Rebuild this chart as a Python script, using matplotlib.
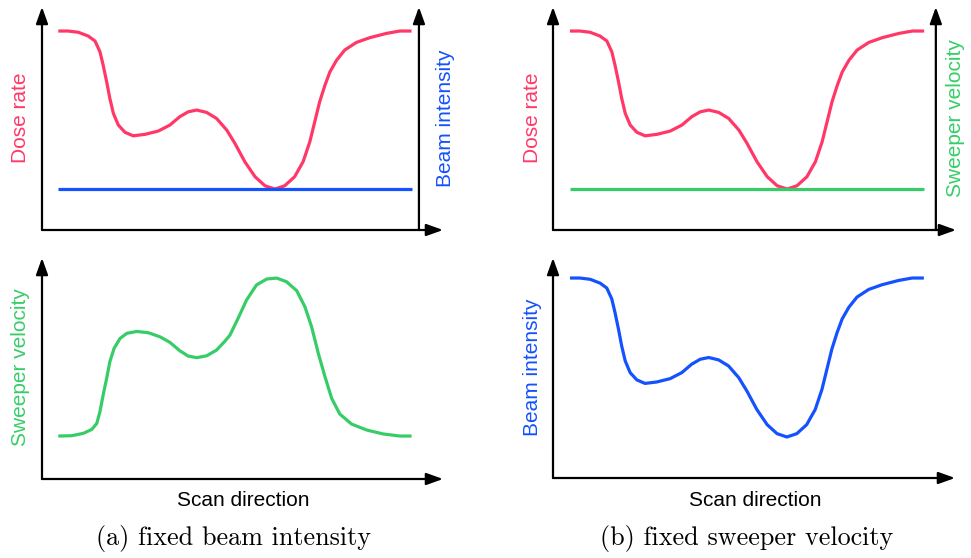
import numpy as np
import matplotlib.pyplot as plt

# values (scan position 0-100, level 0-100)
scan_pos = [0, 2.8, 5.7, 8.5, 10.4, 11.8, 12.7, 13.7, 14.6, 15.6, 17.0, 18.9, 21.2,
            24.5, 28.3, 31.6, 34.4, 36.8, 39.2, 42.0, 44.8, 47.7, 50.0, 52.8, 55.7,
            58.5, 61.3, 64.1, 66.9, 69.3, 71.2, 72.6, 74.0, 75.5, 76.9, 78.8, 81.1,
            84.4, 88.2, 92.9, 96.7, 100]
dose_rate = [100, 100, 99.2, 96.8, 93.7, 86.9, 78.5, 67.9, 57.4, 47.9, 40.5, 35.9, 33.7,
             34.6, 36.7, 40.5, 45.8, 48.9, 50.0, 48.5, 44.7, 37.3, 28.9, 17.3, 7.8,
             2.1, 0, 2.1, 7.8, 17.3, 29.9, 42.6, 55.3, 65.8, 74.2, 81.6, 88.0,
             92.8, 95.8, 98.5, 100, 100]

sweep_pos = [0, 3.8, 7.1, 9.5, 10.9, 11.8, 12.7, 13.7, 14.6, 15.8, 17.5, 19.4, 22.2,
             25.5, 28.8, 31.6, 34.4, 36.8, 39.2, 42.0, 44.8, 47.2, 48.6, 50.9, 53.3,
             56.1, 59.0, 61.8, 64.6, 67.5, 69.8, 71.7, 73.6, 75.5, 77.4, 79.7, 83.0,
             87.3, 92.0, 96.7, 100]
sweeper_velocity = [0, 0.2, 1.7, 4.2, 8.0, 15.4, 25.9, 36.5, 47.0, 55.5, 61.8, 65.0, 66.2,
                    65.4, 62.8, 59.3, 54.0, 50.6, 49.6, 50.8, 54.4, 60.1, 63.9, 74.5, 86.1,
                    95.6, 99.4, 100, 97.7, 92.0, 81.9, 69.2, 52.4, 37.5, 23.8, 13.9, 7.6,
                    3.8, 1.3, 0, 0]

fixed_pos = [0, 100]
fixed_level = [0, 0]

beam_b = dose_rate  # (b): beam intensity follows the dose-rate profile

RED = '#ff3868'
BLUE = '#1451ff'
GREEN = '#36cd68'
W, H = 971, 558
SANS = 'Liberation Sans'
LINE = dict(lw=2.3, solid_capstyle='butt', solid_joinstyle='round')


def make_axes(fig, left, right, top, bottom):
    ax = fig.add_axes([left / W, 1 - bottom / H, (right - left) / W, (bottom - top) / H])
    ax.set_axis_off()
    arrow = dict(arrowstyle='-|>,head_length=0.5,head_width=0.18', color='k', lw=1.6,
                 shrinkA=0, shrinkB=0, mutation_scale=20)
    ax.annotate('', xy=(0, 1), xytext=(0, 0), xycoords='axes fraction', arrowprops=arrow)
    ax.annotate('', xy=(1, 0), xytext=(0, 0), xycoords='axes fraction', arrowprops=arrow)
    return ax, arrow


fig = plt.figure(figsize=(W / 100, H / 100), dpi=100, facecolor='w')

# (a) top
ax1, arr = make_axes(fig, 42, 443, 7, 230)
ax1.annotate('', xy=(0.94, 1), xytext=(0.94, 0), xycoords='axes fraction', arrowprops=arr)
ax1.plot(scan_pos, dose_rate, color=RED, **LINE)
ax1.plot(fixed_pos, fixed_level, color=BLUE, **LINE)
ax1.set_xlim(-4.6, 108.9)
ax1.set_ylim(-25.9, 115.2)

# (a) bottom
ax2, arr = make_axes(fig, 42, 443, 258, 479)
ax2.plot(sweep_pos, sweeper_velocity, color=GREEN, **LINE)
ax2.set_xlim(-4.6, 108.9)
ax2.set_ylim(-27.2, 112.7)

# (b) top
ax3, arr = make_axes(fig, 553, 956, 7, 230)
ax3.annotate('', xy=(0.95, 1), xytext=(0.95, 0), xycoords='axes fraction', arrowprops=arr)
ax3.plot(scan_pos, dose_rate, color=RED, **LINE)
ax3.plot(fixed_pos, fixed_level, color=GREEN, **LINE)
ax3.set_xlim(-4.8, 109.0)
ax3.set_ylim(-25.9, 115.2)

# (b) bottom
ax4, arr = make_axes(fig, 553, 955, 258, 478)
ax4.plot(scan_pos, beam_b, color=BLUE, **LINE)
ax4.set_xlim(-4.8, 108.8)
ax4.set_ylim(-25.8, 112.6)

# labels
fs = 15
def label(x, y, s, c, rot=90):
    fig.text(x / W, 1 - y / H, s, color=c, rotation=rot, ha='center', va='center',
             fontsize=fs, family=SANS)

label(20, 118, 'Dose rate', RED)
label(445, 118, 'Beam intensity', BLUE)
label(532, 118, 'Dose rate', RED)
label(955, 118, 'Sweeper velocity', GREEN)
label(20, 367, 'Sweeper velocity', GREEN)
label(532, 367, 'Beam intensity', BLUE)
label(243, 500, 'Scan direction', 'k', rot=0)
label(755, 500, 'Scan direction', 'k', rot=0)

fig.text(233 / W, 1 - 539 / H, '(a) fixed beam intensity', ha='center', va='center',
         fontsize=18.8, family='cmr10')
fig.text(747 / W, 1 - 539 / H, '(b) fixed sweeper velocity', ha='center', va='center',
         fontsize=18.8, family='cmr10')

plt.savefig('out.png', dpi=100)
